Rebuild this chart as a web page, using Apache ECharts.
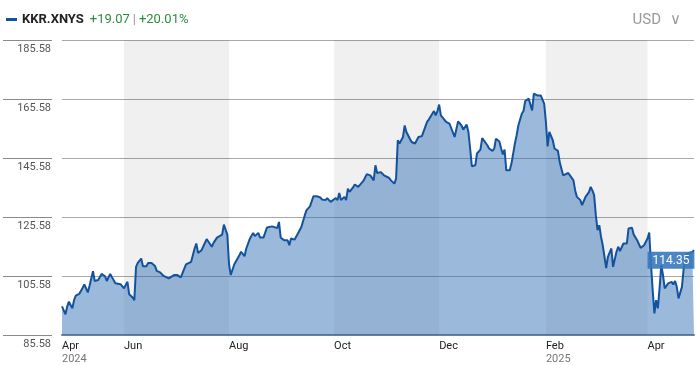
<!DOCTYPE html>
<html><head><meta charset="utf-8">
<script src="https://cdn.jsdelivr.net/npm/echarts@6/dist/echarts.min.js"></script>
<style>html,body{margin:0;padding:0;background:#fff}#c{width:700px;height:365px}</style>
</head><body><div id="c"></div>
<script>
const seriesName = 'KKR.XNYS';
const changeAbs = '+19.07';
const changePct = '+20.01%';
const currency = 'USD';
const lastValue = 114.35;

const dates = [
'2024-04-26','2024-04-28','2024-04-29','2024-04-30','2024-05-02','2024-05-03','2024-05-04','2024-05-06','2024-05-07','2024-05-08',
'2024-05-09','2024-05-11','2024-05-12','2024-05-14','2024-05-15','2024-05-17','2024-05-18','2024-05-19','2024-05-21','2024-05-22',
'2024-05-24','2024-05-25','2024-05-27','2024-05-28','2024-05-30','2024-05-31','2024-06-01','2024-06-03','2024-06-04','2024-06-06',
'2024-06-07','2024-06-08','2024-06-09','2024-06-11','2024-06-12','2024-06-14','2024-06-15','2024-06-17','2024-06-19','2024-06-20',
'2024-06-22','2024-06-24','2024-06-25','2024-06-27','2024-06-28','2024-06-30','2024-07-02','2024-07-04','2024-07-05','2024-07-07',
'2024-07-08','2024-07-10','2024-07-12','2024-07-13','2024-07-14','2024-07-16','2024-07-17','2024-07-19','2024-07-20','2024-07-22',
'2024-07-23','2024-07-25','2024-07-26','2024-07-28','2024-07-29','2024-07-31','2024-08-01','2024-08-02','2024-08-04','2024-08-05',
'2024-08-07','2024-08-08','2024-08-10','2024-08-11','2024-08-13','2024-08-15','2024-08-16','2024-08-18','2024-08-19','2024-08-21',
'2024-08-23','2024-08-24','2024-08-26','2024-08-27','2024-08-29','2024-08-30','2024-08-31','2024-09-02','2024-09-03','2024-09-04',
'2024-09-05','2024-09-06','2024-09-08','2024-09-09','2024-09-10','2024-09-12','2024-09-14','2024-09-15','2024-09-17','2024-09-19',
'2024-09-20','2024-09-21','2024-09-23','2024-09-24','2024-09-26','2024-09-27','2024-09-29','2024-09-30','2024-10-02','2024-10-03',
'2024-10-04','2024-10-05','2024-10-07','2024-10-08','2024-10-09','2024-10-10','2024-10-12','2024-10-13','2024-10-15','2024-10-16',
'2024-10-18','2024-10-20','2024-10-21','2024-10-22','2024-10-24','2024-10-25','2024-10-26','2024-10-28','2024-10-29','2024-10-30',
'2024-10-31','2024-11-02','2024-11-03','2024-11-05','2024-11-06','2024-11-07','2024-11-08','2024-11-10','2024-11-11','2024-11-12',
'2024-11-14','2024-11-15','2024-11-17','2024-11-18','2024-11-19','2024-11-21','2024-11-22','2024-11-24','2024-11-25','2024-11-26',
'2024-11-28','2024-11-29','2024-11-30','2024-12-01','2024-12-02','2024-12-04','2024-12-05','2024-12-07','2024-12-08','2024-12-10',
'2024-12-11','2024-12-12','2024-12-14','2024-12-15','2024-12-17','2024-12-18','2024-12-19','2024-12-20','2024-12-22','2024-12-23',
'2024-12-25','2024-12-26','2024-12-27','2024-12-29','2024-12-30','2025-01-01','2025-01-02','2025-01-03','2025-01-05','2025-01-06',
'2025-01-07','2025-01-08','2025-01-09','2025-01-11','2025-01-12','2025-01-14','2025-01-15','2025-01-16','2025-01-18','2025-01-19',
'2025-01-20','2025-01-22','2025-01-23','2025-01-24','2025-01-25','2025-01-27','2025-01-28','2025-01-29','2025-01-30','2025-01-31',
'2025-02-01','2025-02-02','2025-02-03','2025-02-05','2025-02-06','2025-02-08','2025-02-09','2025-02-11','2025-02-12','2025-02-14',
'2025-02-15','2025-02-17','2025-02-18','2025-02-19','2025-02-21','2025-02-22','2025-02-24','2025-02-25','2025-02-26','2025-02-27',
'2025-02-28','2025-03-01','2025-03-02','2025-03-03','2025-03-04','2025-03-05','2025-03-06','2025-03-07','2025-03-08','2025-03-09',
'2025-03-11','2025-03-12','2025-03-14','2025-03-15','2025-03-16','2025-03-18','2025-03-20','2025-03-21','2025-03-23','2025-03-24',
'2025-03-26','2025-03-28','2025-03-30','2025-04-01','2025-04-02','2025-04-03','2025-04-04','2025-04-05','2025-04-06','2025-04-07',
'2025-04-08','2025-04-09','2025-04-10','2025-04-11','2025-04-12','2025-04-13','2025-04-15','2025-04-16','2025-04-17','2025-04-18',
'2025-04-19','2025-04-21','2025-04-22','2025-04-23','2025-04-25','2025-04-27','2025-04-28'
];
const closes = [
95.28,92.6,95.2,96.9,94.6,97.4,98.9,99.5,99.5,101.6,
102.7,100.0,102.3,107.2,103.9,104.2,104.8,106.3,105.5,103.9,
106.3,105.2,103.1,103.4,102.8,103.1,101.4,103.6,99.4,98.3,
97.4,108.7,110.0,111.5,108.9,108.9,110.0,110.0,109.0,107.3,
106.8,105.6,105.9,104.8,104.3,105.9,105.9,105.1,105.6,109.5,
108.9,110.4,114.9,116.6,113.4,114.3,114.9,118.1,118.1,115.5,
116.8,118.6,118.6,119.6,123.0,119.6,109.5,105.9,109.5,108.9,
112.6,113.8,112.3,114.9,118.1,120.2,119.1,120.2,118.6,118.6,
122.0,122.2,122.4,122.0,121.8,123.9,118.6,117.7,118.3,117.7,
116.0,118.3,117.9,118.3,120.0,122.2,126.2,127.9,129.2,132.6,
133.2,132.6,132.2,131.5,131.3,132.0,130.7,130.3,132.0,131.3,
133.7,131.3,132.4,131.3,135.2,134.1,135.6,136.6,135.8,136.0,
137.8,140.1,140.6,139.7,138.0,143.1,140.5,140.8,140.8,139.7,
140.3,138.8,138.0,136.9,138.6,151.6,150.5,152.7,156.6,154.4,
152.1,151.0,150.5,150.2,152.7,153.0,152.4,157.8,158.6,158.9,
161.5,160.0,161.5,163.7,160.0,158.6,157.8,157.2,157.4,152.7,
152.4,158.0,156.6,155.2,156.9,154.4,148.8,142.8,143.1,147.1,
148.4,152.3,152.5,149.9,148.8,148.0,148.8,152.1,151.2,148.8,
146.8,148.4,141.4,141.4,143.7,150.5,153.3,156.6,160.6,161.5,
164.9,165.7,165.7,161.7,167.4,166.8,167.1,166.8,167.4,164.0,
157.8,149.5,154.4,151.6,148.8,148.0,144.2,139.7,139.1,140.5,
140.3,138.0,134.6,132.4,131.3,129.6,132.4,132.0,134.0,135.8,
134.6,133.0,126.2,121.1,122.8,118.9,116.0,115.5,108.3,112.1,
114.9,108.7,113.8,115.5,114.0,116.6,116.6,121.7,121.9,119.6,
117.7,115.1,116.0,118.3,120.3,109.8,100.8,92.9,97.4,94.6,
101.4,109.3,105.9,101.4,101.4,103.1,103.6,102.7,103.9,101.9,
98.0,101.9,108.1,112.6,113.4,113.7,114.35
];

const axisStart = '2024-04-26';
const axisEnd = '2025-04-28';
const tickDates = ['2024-04-26','2024-06-01','2024-08-01','2024-10-01','2024-12-01','2025-02-01','2025-04-01'];
const tickMonths = ['Apr','Jun','Aug','Oct','Dec','Feb','Apr'];
const tickYears = ['2024','','','','','2025',''];
const shadedBands = [['2024-06-01','2024-08-01'],['2024-10-01','2024-12-01'],['2025-02-01','2025-04-01']];
const yMin = 85.58, yMax = 185.58, yStep = 20;

function ts(s){ const p = s.split('-').map(Number); return Date.UTC(p[0], p[1]-1, p[2]); }
const FONT = "Roboto, 'Liberation Sans', sans-serif";
const LINE = '#13539e';
const tickTs = tickDates.map(ts);
const seriesData = dates.map((d,i)=>[ts(d), closes[i]]);
const last = seriesData[seriesData.length-1];

const chart = echarts.init(document.getElementById('c'), null, {renderer:'canvas'});
chart.setOption({
  animation: false,
  textStyle: {fontFamily: FONT},
  title: {
    text: '{u|' + currency + '}  {v|\u2228}', right: 14, top: 6,
    textStyle: {
      fontFamily: FONT, fontWeight: 'normal',
      rich: {
        u: {color:'#9a9a9a', fontSize: 15, fontFamily: FONT, fontWeight: 'normal'},
        v: {color:'#9a9a9a', fontSize: 15, fontFamily: FONT, fontWeight: 'normal'}
      }
    }
  },
  legend: {
    data: [seriesName], left: 1, top: 8, icon: 'rect', itemWidth: 11, itemHeight: 3, itemGap: 10,
    selectedMode: false,
    formatter: () => '{n|' + seriesName + '}  {g|' + changeAbs + '} {s||} {g|' + changePct + '}',
    textStyle: {
      fontFamily: FONT,
      rich: {
        n: {fontSize: 13, fontWeight: 'bold', color: '#222', fontFamily: FONT},
        g: {fontSize: 13, color: '#2e8b3e', fontFamily: FONT},
        s: {fontSize: 13, color: '#999', fontFamily: FONT}
      }
    }
  },
  grid: {left: 62, right: 6, top: 40, bottom: 30, containLabel: false},
  xAxis: {
    type: 'value', min: ts(axisStart), max: ts(axisEnd), scale: true,
    axisLine: {show: true, onZero: false, lineStyle: {color: '#6f8196', width: 2}},
    axisTick: {show: false},
    splitLine: {show: false},
    axisLabel: {
      customValues: tickTs, showMinLabel: true, showMaxLabel: true,
      align: 'left', margin: 5, hideOverlap: false,
      formatter: (v) => {
        const i = tickTs.indexOf(v);
        if (i < 0) return '';
        return '{m|' + tickMonths[i] + '}' + (tickYears[i] ? '\n{y|' + tickYears[i] + '}' : '');
      },
      rich: {
        m: {fontSize: 11, color: '#222', fontFamily: FONT, lineHeight: 13},
        y: {fontSize: 11, color: '#777', fontFamily: FONT, lineHeight: 13}
      }
    }
  },
  yAxis: {
    type: 'value', min: yMin, max: yMax, interval: yStep, offset: 10,
    axisLine: {show: false},
    axisTick: {show: true, length: 49, lineStyle: {color: '#8a8a8a', width: 1}},
    axisLabel: {
      formatter: (v) => v.toFixed(2), verticalAlign: 'top', margin: 1, padding: [4,0,0,0],
      color: '#555', fontSize: 11, fontFamily: FONT, showMinLabel: true, showMaxLabel: true
    },
    splitLine: {show: true, lineStyle: {color: '#a8a8a8', width: 1}}
  },
  series: [
    {
      name: 'bands', type: 'line', data: [], z: 1, silent: true,
      markArea: {
        silent: true,
        itemStyle: {color: 'rgba(0,0,0,0.06)'},
        data: shadedBands.map(b => [{xAxis: ts(b[0])}, {xAxis: ts(b[1])}])
      }
    },
    {
      name: seriesName, type: 'line', data: seriesData, z: 3,
      showSymbol: false, symbol: 'none',
      itemStyle: {color: LINE},
      lineStyle: {color: LINE, width: 2},
      areaStyle: {color: '#2a6ab2', opacity: 0.47, origin: 'start'},
      markPoint: {
        silent: true, symbol: 'rect', symbolSize: 1,
        itemStyle: {color: 'rgba(0,0,0,0)'},
        data: [{coord: last, value: lastValue}],
        label: {
          show: true, position: [-46, 2],
          formatter: () => lastValue.toFixed(2),
          color: '#fff', fontSize: 12, fontFamily: FONT,
          backgroundColor: 'rgba(55,120,188,0.9)', padding: [3,5,2,5]
        }
      }
    }
  ]
});
</script>
</body></html>
